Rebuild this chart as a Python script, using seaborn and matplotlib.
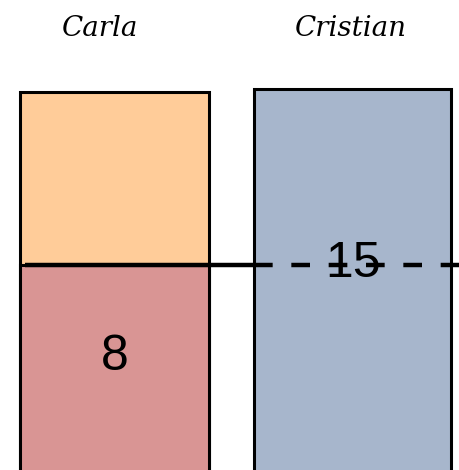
import matplotlib
matplotlib.use("Agg")
import matplotlib.pyplot as plt
import matplotlib.transforms as mtransforms
import seaborn as sns
import pandas as pd

# datos
names = ["Carla", "Cristian"]
totals = [14.7, 14.8]          # altura total de cada barra
carla_part = [8]               # parte roja de Carla
bar_colors = ["#FFCC99", "#A7B6CC"]
part_color = "#D99594"
label_part = "8"
label_total = "15"

sns.set_style("white")
plt.rcParams["text.color"] = "black"

fig = plt.figure(figsize=(4.59, 4.70), dpi=100)
ax = fig.add_axes([0, 0, 1, 1])

df = pd.DataFrame({"name": names, "total": totals})
sns.barplot(data=df, x="name", y="total", hue="name", palette=bar_colors,
            order=names, width=0.81, edgecolor="black", linewidth=2.2,
            legend=False, saturation=1, ax=ax)

dfp = pd.DataFrame({"name": names[:1], "part": carla_part})
sns.barplot(data=dfp, x="name", y="part", order=names, color=part_color,
            width=0.81, edgecolor="black", linewidth=2.2, ax=ax, saturation=1)

# anchos un poco distintos como en el dibujo
widths = [0.794, 0.828, 0.794]
for p, w in zip(ax.patches, widths):
    c = p.get_x() + p.get_width() / 2
    p.set_width(w)
    p.set_x(c - w / 2)

ax.set_xlim(-0.481, 1.447)
ax.set_ylim(0.077, 18.24)
ax.axis("off")

# linea de referencia: continua en Carla, discontinua en Cristian
carla_bar = ax.patches[0]
cris_bar = ax.patches[1]
x0 = carla_bar.get_x() + 0.02
x1 = cris_bar.get_x()
x2 = ax.get_xlim()[1]
ax.plot([x0, x1], [carla_part[0], carla_part[0]], color="black", lw=3.2,
        solid_capstyle="butt", zorder=5)
ax.plot([x1, x2], [carla_part[0], carla_part[0]], color="black", lw=3.2,
        dashes=(4.2, 4.2), zorder=5)

ax.text(0, 4.45, label_part, ha="center", va="center",
        fontsize=36, family="Liberation Sans", zorder=6)
ax.text(1, carla_part[0] + 0.05, label_total, ha="center", va="center",
        fontsize=36, family="Liberation Sans", zorder=6)

trans = mtransforms.blended_transform_factory(ax.transData, ax.transAxes)
ax.text(-0.06, 0.94, names[0], transform=trans, ha="center", va="center",
        fontsize=20, fontstyle="italic", family="DejaVu Serif")
ax.text(0.995, 0.94, names[1], transform=trans, ha="center", va="center",
        fontsize=20, fontstyle="italic", family="DejaVu Serif")

fig.savefig("out.png", dpi=100)
